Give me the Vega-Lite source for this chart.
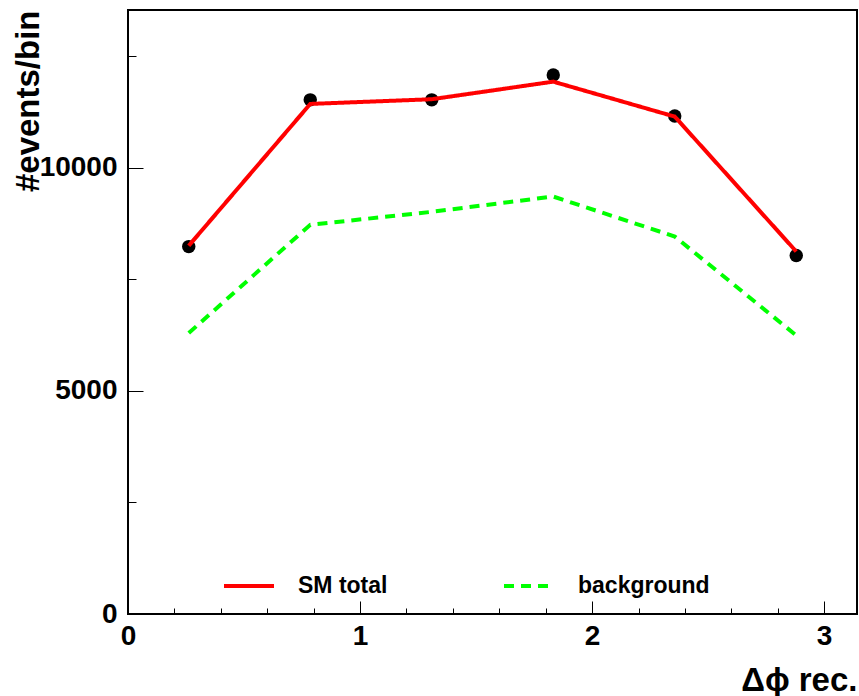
{
  "$schema": "https://vega.github.io/schema/vega-lite/v6.json",
  "width": 729,
  "height": 604,
  "autosize": {"type": "none"},
  "padding": {"left": 128, "top": 10, "right": 2, "bottom": 82},
  "background": "white",
  "config": {
    "view": {"stroke": "black", "strokeWidth": 2},
    "font": "Liberation Sans",
    "axis": {
      "domain": false,
      "grid": false,
      "labelFlush": false,
      "labelFont": "Liberation Sans",
      "labelFontWeight": "bold",
      "labelFontSize": 28,
      "labelColor": "black",
      "tickColor": "black",
      "tickWidth": 1,
      "titleFont": "Liberation Sans",
      "titleFontWeight": "bold",
      "titleFontSize": 33,
      "titleColor": "black"
    },
    "legend": {
      "labelFont": "Liberation Sans",
      "labelFontWeight": "bold",
      "labelFontSize": 23,
      "labelColor": "black"
    }
  },
  "datasets": {
    "pts": [
      {"x": 0.2618, "y": 8230},
      {"x": 0.7854, "y": 11517},
      {"x": 1.309, "y": 11517},
      {"x": 1.8326, "y": 12075},
      {"x": 2.3562, "y": 11157},
      {"x": 2.8798, "y": 8031}
    ],
    "curves": [
      {"x": 0.2618, "y": 8250, "series": "SM total"},
      {"x": 0.7854, "y": 11426, "series": "SM total"},
      {"x": 1.309, "y": 11531, "series": "SM total"},
      {"x": 1.8326, "y": 11925, "series": "SM total"},
      {"x": 2.3562, "y": 11142, "series": "SM total"},
      {"x": 2.8798, "y": 8120, "series": "SM total"},
      {"x": 0.2618, "y": 6294, "series": "background"},
      {"x": 0.7854, "y": 8718, "series": "background"},
      {"x": 1.309, "y": 9009, "series": "background"},
      {"x": 1.8326, "y": 9351, "series": "background"},
      {"x": 2.3562, "y": 8456, "series": "background"},
      {"x": 2.8798, "y": 6240, "series": "background"}
    ]
  },
  "layer": [
    {
      "data": {"name": "pts"},
      "mark": {"type": "circle", "size": 180, "opacity": 1, "color": "black"},
      "encoding": {
        "x": {
          "field": "x", "type": "quantitative",
          "scale": {"domain": [0, 3.14159], "nice": false, "zero": false},
          "axis": {
            "orient": "bottom", "labels": false, "title": null,
            "values": [0.2, 0.4, 0.6, 0.8, 1.2, 1.4, 1.6, 1.8, 2.2, 2.4, 2.6, 2.8],
            "tickSize": -6
          }
        },
        "y": {
          "field": "y", "type": "quantitative",
          "scale": {"domain": [0, 13530], "nice": false},
          "axis": {
            "orient": "left", "labels": false, "title": null,
            "values": [2500, 7500, 12500],
            "tickSize": -8
          }
        }
      }
    },
    {
      "data": {"name": "curves"},
      "mark": {"type": "line", "strokeWidth": 4},
      "encoding": {
        "x": {
          "field": "x", "type": "quantitative",
          "axis": {
            "orient": "bottom",
            "values": [0, 1, 2, 3],
            "format": "d",
            "tickSize": -13,
            "labelPadding": 21,
            "title": "Δϕ rec.",
            "titleAlign": "right",
            "titleBaseline": "alphabetic",
            "titleX": 729,
            "titleY": 76
          }
        },
        "y": {
          "field": "y", "type": "quantitative",
          "axis": {
            "orient": "left",
            "values": [0, 5000, 10000],
            "format": "d",
            "tickSize": -15,
            "labelPadding": 26,
            "title": "#events/bin",
            "titleAngle": -90,
            "titleAlign": "right",
            "titleBaseline": "alphabetic",
            "titleX": -90,
            "titleY": 0
          }
        },
        "color": {
          "field": "series", "type": "nominal",
          "scale": {"domain": ["SM total", "background"], "range": ["#ff0000", "#00ff00"]},
          "legend": {
            "title": null,
            "orient": "none",
            "direction": "horizontal",
            "columns": 2,
            "legendX": 94,
            "legendY": 549,
            "symbolType": "stroke",
            "symbolSize": 2500,
            "symbolStrokeWidth": 4,
            "labelOffset": 22,
            "columnPadding": 108
          }
        },
        "strokeDash": {
          "field": "series", "type": "nominal",
          "scale": {"domain": ["SM total", "background"], "range": [[1, 0], [10, 7]]},
          "legend": {
            "title": null,
            "orient": "none",
            "direction": "horizontal",
            "columns": 2,
            "legendX": 94,
            "legendY": 549,
            "symbolType": "stroke",
            "symbolSize": 2500,
            "symbolStrokeWidth": 4,
            "labelOffset": 22,
            "columnPadding": 108
          }
        }
      }
    }
  ],
  "resolve": {"axis": {"x": "independent", "y": "independent"}}
}
